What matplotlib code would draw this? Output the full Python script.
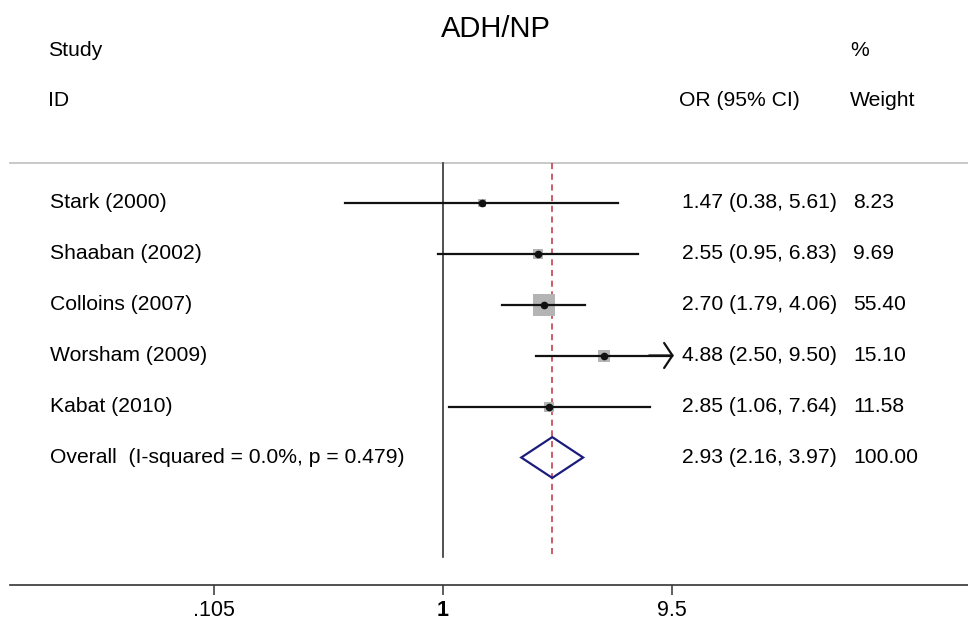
import matplotlib.pyplot as plt
from matplotlib import transforms
from matplotlib.patches import Polygon

studies = ["Stark (2000)", "Shaaban (2002)", "Colloins (2007)", "Worsham (2009)", "Kabat (2010)"]
or_est = [1.47, 2.55, 2.70, 4.88, 2.85]
ci_lo = [0.38, 0.95, 1.79, 2.50, 1.06]
ci_hi = [5.61, 6.83, 4.06, 9.50, 7.64]
weights = [8.23, 9.69, 55.40, 15.10, 11.58]

overall_or = 2.93
overall_lo = 2.16
overall_hi = 3.97
i_squared = 0.0
p_het = 0.479

xticks = [0.105, 1, 9.5]
xtick_labels = [".105", "1", "9.5"]

plt.rcParams['font.family'] = ['Liberation Sans', 'DejaVu Sans']
FS = 15.2

fig = plt.figure(figsize=(9.68, 6.2), dpi=100)
# plot region: axis line near bottom, rows 51 px apart
ax = fig.add_axes([10 / 968, 35 / 620, 958 / 968, 585 / 620])
ax.set_xscale("log")
ax.set_xlim(10 ** ((10 - 443) / 234), 10 ** ((968 - 443) / 234))
ax.set_ylim(7.5, 7.5 - 585 / 51)

n = len(studies)
rows = list(range(n))
overall_row = n

top_row = -0.77
bottom_row = 6.95

# separator line at the top
ax.plot([0, 1], [top_row, top_row], transform=transforms.blended_transform_factory(ax.transAxes, ax.transData),
        color="#c4c4c4", lw=1.3, clip_on=False)

# null line and overall dashed line
ax.plot([1, 1], [top_row, bottom_row], color="#333333", lw=1.2)
ax.plot([overall_or, overall_or], [top_row, bottom_row], color="#c0303c", lw=1.1, ls=(0, (4, 3)))

# study boxes and CIs
for i in rows:
    ax.scatter(or_est[i], i, marker="s", s=weights[i] * 4.6, color="#b4b4b4", lw=0, zorder=2)
    if ci_hi[i] >= xticks[-1]:
        ax.plot([ci_lo[i], xticks[-1]], [i, i], color="#111111", lw=1.6, zorder=3)
        ax.annotate("", xy=(xticks[-1] * 1.02, i), xytext=(xticks[-1] * 0.8, i),
                    arrowprops=dict(arrowstyle="->,head_length=0.6,head_width=0.9", lw=1.6,
                                    color="#111111", mutation_scale=10, shrinkA=0, shrinkB=0),
                    zorder=3)
    else:
        ax.plot([ci_lo[i], ci_hi[i]], [i, i], color="#111111", lw=1.6, zorder=3)
    ax.plot(or_est[i], i, "o", color="#111111", ms=4.5, zorder=4)

# overall diamond
diamond = Polygon([(overall_lo, overall_row), (overall_or, overall_row - 0.4),
                   (overall_hi, overall_row), (overall_or, overall_row + 0.4)],
                  closed=True, fill=False, edgecolor="#1c1c7c", lw=1.6, zorder=3)
ax.add_patch(diamond)

# axis styling
for s in ["top", "left", "right"]:
    ax.spines[s].set_visible(False)
ax.spines["bottom"].set_color("#333333")
ax.spines["bottom"].set_linewidth(1.2)
ax.set_yticks([])
ax.set_xticks(xticks)
ax.set_xticklabels(xtick_labels, fontsize=15.5)
ax.minorticks_off()
ax.tick_params(axis="x", length=7, width=1.1, color="#333333", pad=4)
ax.get_xticklabels()[1].set_fontweight("bold")

# text columns
tr = transforms.blended_transform_factory(fig.transFigure, ax.transData)
for i in rows:
    ax.text(50 / 968, i, studies[i], transform=tr, fontsize=FS, va="center", ha="left")
    ax.text(682 / 968, i, f"{or_est[i]:.2f} ({ci_lo[i]:.2f}, {ci_hi[i]:.2f})",
            transform=tr, fontsize=FS, va="center", ha="left")
    ax.text(853 / 968, i, f"{weights[i]:.2f}", transform=tr, fontsize=FS, va="center", ha="left")

ax.text(50 / 968, overall_row, f"Overall  (I-squared = {i_squared:.1f}%, p = {p_het:.3f})",
        transform=tr, fontsize=FS, va="center", ha="left")
ax.text(682 / 968, overall_row, f"{overall_or:.2f} ({overall_lo:.2f}, {overall_hi:.2f})",
        transform=tr, fontsize=FS, va="center", ha="left")
ax.text(853 / 968, overall_row, f"{sum(weights):.2f}", transform=tr, fontsize=FS, va="center", ha="left")

# headers
fig.text(48 / 968, 1 - 51 / 620, "Study", fontsize=FS, va="center", ha="left")
fig.text(48 / 968, 1 - 100 / 620, "ID", fontsize=FS, va="center", ha="left")
fig.text(679 / 968, 1 - 100 / 620, "OR (95% CI)", fontsize=FS, va="center", ha="left")
fig.text(850 / 968, 1 - 51 / 620, "%", fontsize=FS, va="center", ha="left")
fig.text(850 / 968, 1 - 100 / 620, "Weight", fontsize=FS, va="center", ha="left")
fig.text(496 / 968, 1 - 29 / 620, "ADH/NP", fontsize=21, va="center", ha="center")

fig.savefig("out.png", dpi=100)
